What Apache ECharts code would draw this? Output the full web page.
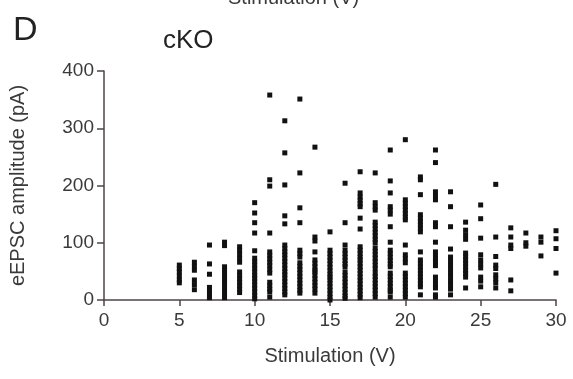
<!DOCTYPE html>
<html>
<head>
<meta charset="utf-8">
<script src="https://cdn.jsdelivr.net/npm/echarts@6/dist/echarts.min.js"></script>
<style>
  html, body { margin: 0; padding: 0; background: #fff; }
  #chart { width: 573px; height: 379px; }
</style>
</head>
<body>
<div id="chart"></div>
<script>
// Stimulation voltages (V) for each column of recordings
const volts = [5, 6, 7, 8, 9, 10, 11, 12, 13, 14, 15, 16, 17, 18, 19, 20, 21, 22, 23, 24, 25, 26, 27, 28, 29, 30];

// eEPSC amplitudes (pA) recorded at each voltage, same order as volts
const amplitudes = [
  [61, 55, 49, 42, 35, 30],
  [66, 59, 52, 35, 27, 18],
  [96, 63, 45, 22, 16, 10, 4],
  [101, 95, 58, 52, 46, 40, 34, 30, 22, 16, 10, 4],
  [93, 87, 80, 73, 66, 49, 43, 37, 31, 25, 19, 13],
  [170, 152, 135, 117, 86, 73, 67, 61, 55, 49, 43, 38, 32, 26, 20, 14, 8, 2],
  [358, 210, 199, 117, 84, 78, 72, 66, 60, 53, 47, 31, 25, 19, 14, 5],
  [313, 257, 201, 147, 133, 96, 90, 84, 79, 73, 67, 61, 55, 49, 44, 38, 32, 26, 20, 14, 9],
  [351, 222, 161, 135, 87, 81, 75, 65, 59, 53, 47, 41, 35, 29, 23, 17, 12],
  [267, 110, 103, 84, 70, 64, 58, 52, 49, 43, 37, 31, 25, 19, 12],
  [119, 87, 81, 75, 69, 63, 57, 51, 45, 40, 35, 29, 23, 17, 11, 5, 0],
  [204, 135, 96, 87, 81, 75, 69, 63, 58, 49, 43, 37, 31, 25, 19, 13, 7, 3],
  [224, 187, 180, 174, 168, 163, 143, 124, 93, 87, 81, 75, 70, 64, 58, 52, 46, 40, 34, 28, 22, 16, 10, 4],
  [222, 170, 163, 157, 136, 130, 124, 118, 112, 106, 100, 91, 85, 79, 73, 67, 61, 55, 47, 41, 35, 29, 23, 17, 11, 5],
  [262, 208, 187, 163, 157, 150, 128, 101, 87, 81, 75, 69, 63, 58, 47, 41, 35, 29, 23, 17, 14, 5],
  [280, 175, 169, 163, 157, 151, 145, 140, 96, 79, 72, 65, 47, 41, 35, 29, 23, 17, 11, 5],
  [215, 210, 184, 149, 143, 137, 131, 125, 119, 84, 70, 64, 58, 52, 46, 40, 34, 28, 23, 9],
  [262, 240, 189, 182, 175, 135, 128, 101, 84, 78, 72, 66, 60, 40, 33, 26, 21, 9, 5],
  [189, 163, 128, 89, 75, 68, 61, 54, 47, 40, 33, 26, 19, 9],
  [136, 122, 114, 106, 82, 76, 70, 64, 58, 52, 46, 40, 21],
  [166, 142, 108, 79, 70, 63, 56, 40, 33, 23],
  [202, 110, 76, 61, 55, 44, 37, 30, 21],
  [126, 110, 96, 90, 35, 16],
  [117, 100, 94],
  [110, 101, 77],
  [121, 107, 90, 47]
];

// Axis tick values
const xTicks = [0, 5, 10, 15, 20, 25, 30];
const yTicks = [0, 100, 200, 300, 400];

const points = [];
volts.forEach((v, i) => {
  amplitudes[i].forEach(a => points.push([v, a]));
});

const axisColor = '#4d4545';
const textColor = '#3a3a3a';
const font = 'Liberation Sans, Arial, sans-serif';

const chart = echarts.init(document.getElementById('chart'), null, { renderer: 'canvas' });
chart.setOption({
  animation: false,
  backgroundColor: '#fff',
  grid: { left: 103, right: 17, top: 71, bottom: 79, containLabel: false },
  xAxis: {
    type: 'value',
    min: xTicks[0],
    max: xTicks[xTicks.length - 1],
    interval: 5,
    name: 'Stimulation (V)',
    nameLocation: 'middle',
    nameGap: 46,
    nameTextStyle: { color: textColor, fontSize: 20, fontFamily: font },
    axisLine: { show: true, lineStyle: { color: axisColor, width: 1.5 } },
    axisTick: { show: true, length: 6, lineStyle: { color: axisColor, width: 1.5 } },
    axisLabel: { color: textColor, fontSize: 19, fontFamily: font, margin: 11 },
    splitLine: { show: false }
  },
  yAxis: {
    type: 'value',
    min: yTicks[0],
    max: yTicks[yTicks.length - 1],
    interval: 100,
    name: 'eEPSC amplitude (pA)',
    nameLocation: 'middle',
    nameGap: 76,
    nameRotate: 90,
    nameTextStyle: { color: textColor, fontSize: 20, fontFamily: font },
    axisLine: { show: true, lineStyle: { color: axisColor, width: 1.5 } },
    axisTick: { show: true, length: 7, lineStyle: { color: axisColor, width: 1.5 } },
    axisLabel: { color: textColor, fontSize: 19, fontFamily: font, margin: 10 },
    splitLine: { show: false }
  },
  graphic: [
    { type: 'text', left: 13, top: 14, style: { text: 'D', fontSize: 34, fontFamily: font, fill: '#222' } },
    { type: 'text', left: 163, top: 28, style: { text: 'cKO', fontSize: 26, fontFamily: font, fill: '#222' } },
    { type: 'text', left: 228, top: -12, style: { text: 'Stimulation (V)', fontSize: 20, fontFamily: font, fill: textColor } }
  ],
  series: [{
    type: 'scatter',
    data: points,
    symbol: 'rect',
    symbolSize: 5,
    itemStyle: { color: '#111', opacity: 1 },
    clip: false
  }]
});
</script>
</body>
</html>
